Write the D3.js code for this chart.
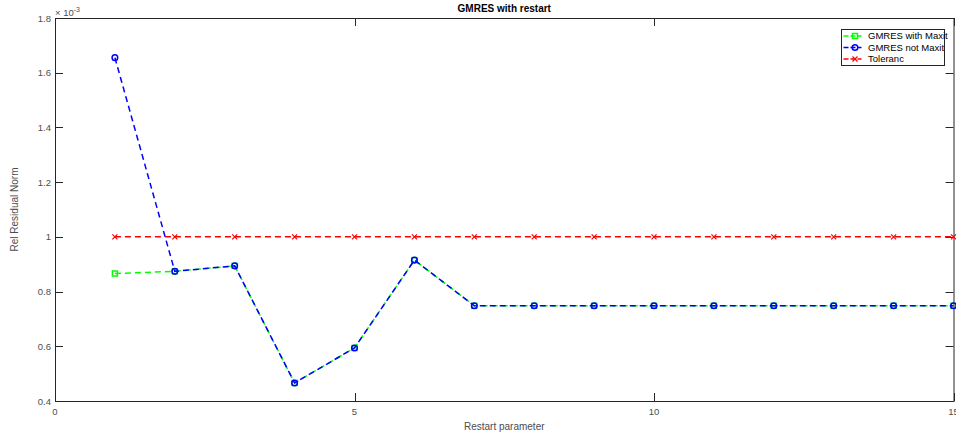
<!DOCTYPE html>
<html>
<head>
<meta charset="utf-8">
<script src="https://cdn.jsdelivr.net/npm/d3@7/dist/d3.min.js"></script>
<style>
  body { margin: 0; background: #fff; }
  svg { display: block; font-family: "Liberation Sans", Arial, sans-serif; }
</style>
</head>
<body>
<div id="chart"></div>
<script>
const width = 956;
const height = 434;
const margin = { top: 18, right: 2, bottom: 33, left: 55 };

// values in units of 1e-3
const restarts = [1, 2, 3, 4, 5, 6, 7, 8, 9, 10, 11, 12, 13, 14, 15];
const withMaxit = [0.866, 0.874, 0.894, 0.466, 0.594, 0.915, 0.748, 0.748, 0.748, 0.748, 0.748, 0.748, 0.748, 0.748, 0.748];
const notMaxit = [1.655, 0.874, 0.894, 0.466, 0.594, 0.915, 0.748, 0.748, 0.748, 0.748, 0.748, 0.748, 0.748, 0.748, 0.748];
const tolerance = [1, 1, 1, 1, 1, 1, 1, 1, 1, 1, 1, 1, 1, 1, 1];
const xTicks = [0, 5, 10, 15];
const yTicks = [0.4, 0.6, 0.8, 1, 1.2, 1.4, 1.6, 1.8];
const seriesNames = ["GMRES with Maxit", "GMRES not Maxit", "Toleranc"];

const svg = d3.select("#chart").append("svg")
  .attr("width", width)
  .attr("height", height);

const x = d3.scaleLinear().domain([0, 15]).range([margin.left, width - margin.right - 0.5]);
const y = d3.scaleLinear().domain([0.4, 1.8]).range([height - margin.bottom, margin.top]);

const plotW = x(15) - x(0);
const plotH = y(0.4) - y(1.8);
const tickLen = 8;
const axisColor = "#262626";
const labelColor = "#4d4d4d";

// axis box
svg.append("rect")
  .attr("x", x(0) + 0.5)
  .attr("y", y(1.8) + 0.5)
  .attr("width", plotW)
  .attr("height", plotH)
  .attr("fill", "#fff")
  .attr("stroke", axisColor)
  .attr("stroke-width", 1);

// inner ticks
const tg = svg.append("g").attr("stroke", axisColor).attr("stroke-width", 1);
xTicks.forEach((t) => {
  const px = Math.round(x(t)) + 0.5;
  tg.append("line").attr("x1", px).attr("x2", px).attr("y1", y(0.4)).attr("y2", y(0.4) - tickLen);
  tg.append("line").attr("x1", px).attr("x2", px).attr("y1", y(1.8)).attr("y2", y(1.8) + tickLen);
});
yTicks.forEach((t) => {
  const py = Math.round(y(t)) + 0.5;
  tg.append("line").attr("x1", x(0)).attr("x2", x(0) + tickLen).attr("y1", py).attr("y2", py);
  tg.append("line").attr("x1", x(15)).attr("x2", x(15) - tickLen).attr("y1", py).attr("y2", py);
});

// tick labels
svg.append("g").selectAll("text")
  .data(xTicks)
  .join("text")
  .attr("x", (d) => x(d))
  .attr("y", y(0.4) + 14)
  .attr("text-anchor", "middle")
  .style("font-size", "9.5px")
  .style("fill", labelColor)
  .text((d) => d);

svg.append("g").selectAll("text")
  .data(yTicks)
  .join("text")
  .attr("x", x(0) - 4)
  .attr("y", (d) => y(d) + 3.5)
  .attr("text-anchor", "end")
  .style("font-size", "9.5px")
  .style("fill", labelColor)
  .text((d) => d3.format("~g")(d));

// exponent label
const expo = svg.append("text")
  .attr("x", x(0))
  .attr("y", y(1.8) - 2)
  .style("font-size", "9.5px")
  .style("fill", labelColor);
expo.append("tspan").text("\u00d7 10");
expo.append("tspan").attr("dy", -4).style("font-size", "7px").text("-3");

// title and axis labels
svg.append("text")
  .attr("x", (x(0) + x(15)) / 2)
  .attr("y", 12)
  .attr("text-anchor", "middle")
  .style("font-size", "10px")
  .style("font-weight", "bold")
  .style("fill", "#000")
  .text("GMRES with restart");

svg.append("text")
  .attr("x", (x(0) + x(15)) / 2)
  .attr("y", height - 4)
  .attr("text-anchor", "middle")
  .style("font-size", "10px")
  .style("fill", labelColor)
  .text("Restart parameter");

svg.append("text")
  .attr("transform", `translate(18, ${(y(0.4) + y(1.8)) / 2}) rotate(-90)`)
  .attr("text-anchor", "middle")
  .style("font-size", "10px")
  .style("fill", labelColor)
  .text("Rel Residual Norm");

const plot = svg.append("g");
const dash = "6,4";

function drawLine(vals, color) {
  const line = d3.line().x((d, i) => x(restarts[i])).y((d) => y(d));
  plot.append("path")
    .datum(vals)
    .attr("d", line)
    .attr("fill", "none")
    .attr("stroke", color)
    .attr("stroke-width", 1.5)
    .attr("stroke-dasharray", dash);
}

drawLine(withMaxit, "#00ff00");
plot.selectAll("rect.sq")
  .data(withMaxit)
  .join("rect")
  .attr("class", "sq")
  .attr("x", (d, i) => x(restarts[i]) - 2.5)
  .attr("y", (d) => y(d) - 2.5)
  .attr("width", 5)
  .attr("height", 5)
  .attr("fill", "none")
  .attr("stroke", "#00ff00")
  .attr("stroke-width", 1.5);

drawLine(notMaxit, "#0000ff");
plot.selectAll("circle.ci")
  .data(notMaxit)
  .join("circle")
  .attr("class", "ci")
  .attr("cx", (d, i) => x(restarts[i]))
  .attr("cy", (d) => y(d))
  .attr("r", 2.8)
  .attr("fill", "none")
  .attr("stroke", "#0000ff")
  .attr("stroke-width", 1.5);

drawLine(tolerance, "#ff0000");
const cross = (cx, cy, s) => `M${cx - s},${cy - s}L${cx + s},${cy + s}M${cx - s},${cy + s}L${cx + s},${cy - s}`;
plot.selectAll("path.xm")
  .data(tolerance)
  .join("path")
  .attr("class", "xm")
  .attr("d", (d, i) => cross(x(restarts[i]), y(d), 2.5))
  .attr("stroke", "#ff0000")
  .attr("stroke-width", 1.2)
  .attr("fill", "none");

// legend
const lg = svg.append("g").attr("transform", "translate(841.5, 29.5)");
lg.append("rect")
  .attr("width", 103)
  .attr("height", 36)
  .attr("fill", "#fff")
  .attr("stroke", axisColor);
const colors = ["#00ff00", "#0000ff", "#ff0000"];
seriesNames.forEach((name, i) => {
  const ly = 6.5 + i * 11.5;
  lg.append("line")
    .attr("x1", 2).attr("x2", 20).attr("y1", ly).attr("y2", ly)
    .attr("stroke", colors[i]).attr("stroke-width", 1.5)
    .attr("stroke-dasharray", "5,2");
  if (i === 0) {
    lg.append("rect").attr("x", 11).attr("y", ly - 2.5).attr("width", 5).attr("height", 5)
      .attr("fill", "none").attr("stroke", colors[i]).attr("stroke-width", 1.5);
  } else if (i === 1) {
    lg.append("circle").attr("cx", 13.5).attr("cy", ly).attr("r", 2.8)
      .attr("fill", "none").attr("stroke", colors[i]).attr("stroke-width", 1.5);
  } else {
    lg.append("path").attr("d", cross(13.5, ly, 2.5))
      .attr("stroke", colors[i]).attr("stroke-width", 1.2);
  }
  lg.append("text")
    .attr("x", 26.5)
    .attr("y", ly + 3.3)
    .style("font-size", "9.5px")
    .style("fill", "#000")
    .text(name);
});
</script>
</body>
</html>
